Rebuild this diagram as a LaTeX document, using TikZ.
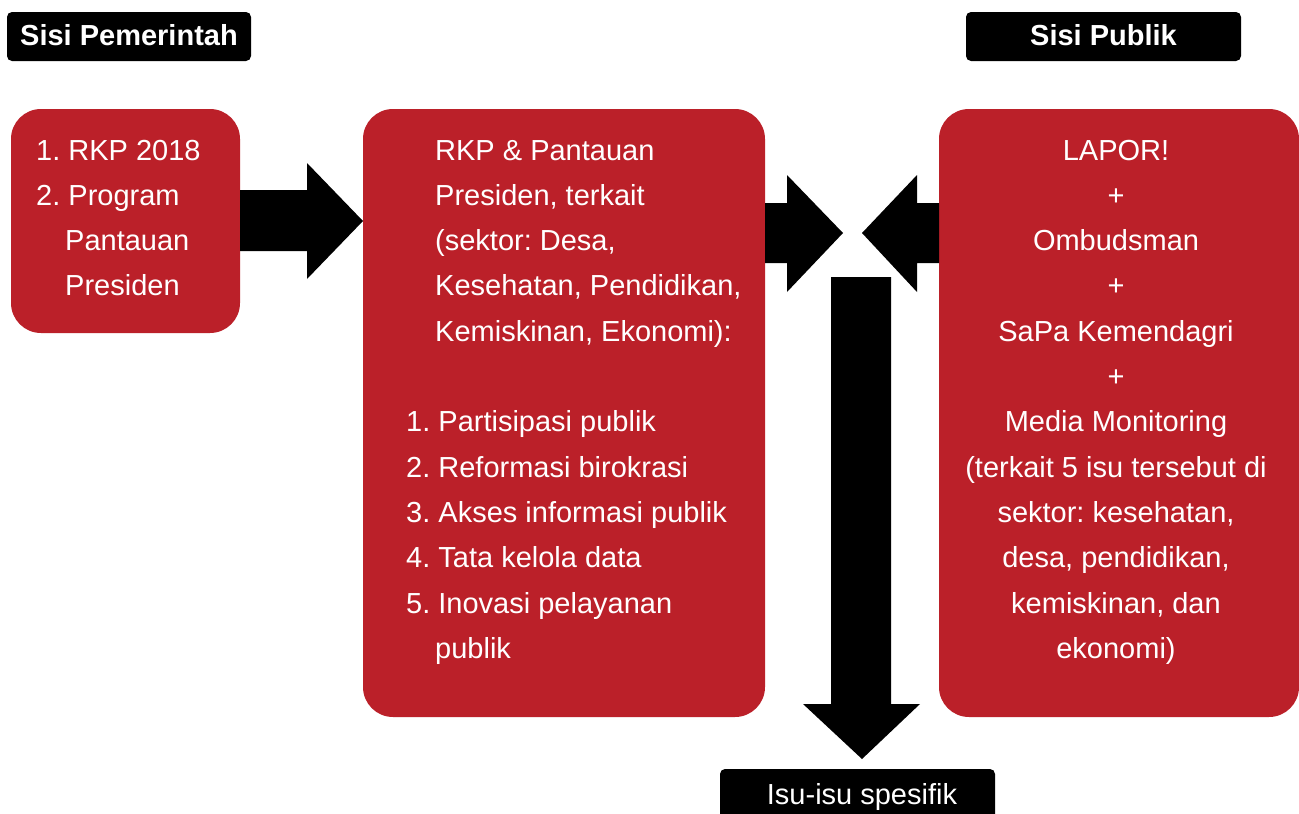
\documentclass[tikz,border=0pt]{standalone}
\usepackage{fontspec}
\setmainfont{Liberation Sans}
\definecolor{boxred}{HTML}{BB2029}
\begin{document}
\frenchspacing
\begin{tikzpicture}[x=1pt,y=-1pt,
  redbox/.style={fill=boxred, draw=none, rounded corners=30pt, inner sep=0pt, outer sep=0pt, anchor=north west},
  tagbox/.style={fill=black, draw=none, rounded corners=5pt, inner sep=0pt, outer sep=0pt, anchor=north west},
  txt/.style={text=white, font=\frenchspacing\fontsize{29}{35}\selectfont, inner sep=0pt},
  tagtxt/.style={text=white, font=\bfseries\fontsize{29}{35}\selectfont, inner sep=0pt, anchor=base},
  blockarrow/.style={fill=black, draw=none}]
\useasboundingbox (0,0) rectangle (1299,814);

% header tags
\node[tagbox, minimum width=244pt, minimum height=49pt] (gov) at (7,12) {};
\node[tagtxt] (govtxt) at (129,45) {Sisi Pemerintah};
\node[tagbox, minimum width=275pt, minimum height=49pt] (pub) at (966,12) {};
\node[tagtxt] (pubtxt) at (1103.5,45) {Sisi Publik};

% red boxes
\node[redbox, minimum width=229pt, minimum height=224pt] (L) at (11,109) {};
\node[redbox, minimum width=402pt, minimum height=608pt] (M) at (363,109) {};
\node[redbox, minimum width=360pt, minimum height=608pt] (R) at (939,109) {};

% left box text
\node[txt, anchor=base west] (l1) at (36,160) {1. RKP 2018};
\node[txt, anchor=base west] (l2) at (36,205.3) {2. Program};
\node[txt, anchor=base west] (l3) at (65,250.6) {Pantauan};
\node[txt, anchor=base west] (l4) at (65,295.9) {Presiden};

% middle box text
\foreach \t [count=\i from 0] in {{RKP \& Pantauan},{Presiden, terkait},{(sektor: Desa,},{Kesehatan, Pendidikan,},{Kemiskinan, Ekonomi):}}
  \node[txt, anchor=base west] (m\i) at (435,160+45.3*\i) {\t};
\foreach \t [count=\i from 6] in {{1. Partisipasi publik},{2. Reformasi birokrasi},{3. Akses informasi publik},{4. Tata kelola data},{5. Inovasi pelayanan}}
  \node[txt, anchor=base west] (m\i) at (406,160+45.3*\i) {\t};
\node[txt, anchor=base west] (m11) at (435,658.3) {publik};

% right box text
\foreach \t [count=\i from 0] in {{LAPOR!},{+},{Ombudsman},{+},{SaPa Kemendagri},{+},{Media Monitoring},{(terkait 5 isu tersebut di},{sektor: kesehatan,},{desa, pendidikan,},{kemiskinan, dan},{ekonomi)}}
  \node[txt, anchor=base] (r\i) at (1116,160+45.3*\i) {\t};

% bottom tag
\node[tagbox, minimum width=275pt, minimum height=60pt] (isu) at (720,769) {};
\node[txt, anchor=base] (isutxt) at (862,804) {Isu-isu spesifik};

% block arrows
\fill[blockarrow] (L.east |- 0,190) -- (307,190) -- (307,163) -- (M.west |- 0,221) -- (307,279) -- (307,251) -- (L.east |- 0,251) -- cycle;
\fill[blockarrow] (M.east |- 0,203) -- (787,203) -- (787,175) -- (843,233) -- (787,292) -- (787,263) -- (M.east |- 0,263) -- cycle;
\fill[blockarrow] (R.west |- 0,203) -- (917,203) -- (917,175) -- (862,233) -- (917,292) -- (917,263) -- (R.west |- 0,263) -- cycle;
\fill[blockarrow] (831,277) -- (891,277) -- (891,704) -- (920,704) -- (862,759) -- (803,704) -- (831,704) -- cycle;
\end{tikzpicture}
\end{document}
